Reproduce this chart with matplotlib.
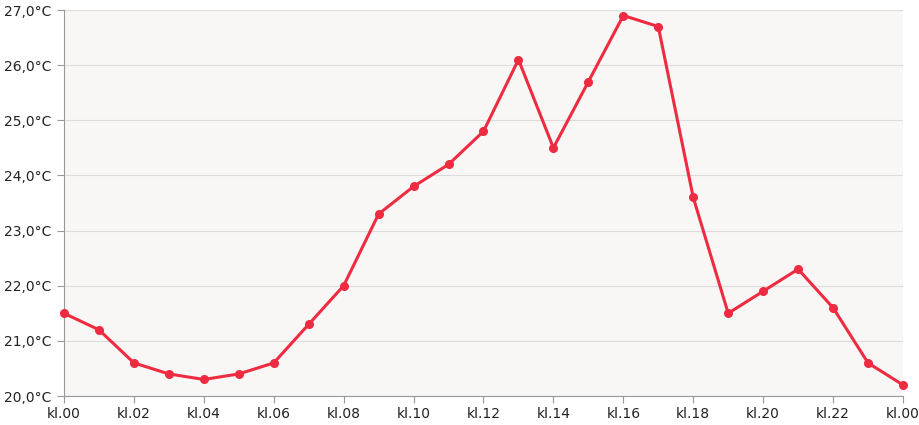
import matplotlib
matplotlib.use("Agg")
import matplotlib.pyplot as plt
from matplotlib.ticker import FuncFormatter

# hourly temperature readings
hours = list(range(25))
temps = [21.5, 21.2, 20.6, 20.4, 20.3, 20.4, 20.6, 21.3, 22.0, 23.3, 23.8, 24.2, 24.8,
         26.1, 24.5, 25.7, 26.9, 26.7, 23.6, 21.5, 21.9, 22.3, 21.6, 20.6, 20.2]
tick_hours = list(range(0, 25, 2))
tick_labels = ['kl.%02d' % (h % 24) for h in tick_hours]
y_ticks = [20, 21, 22, 23, 24, 25, 26, 27]

plt.rcParams['font.family'] = 'DejaVu Sans'
plt.rcParams['font.sans-serif'] = ['DejaVu Sans']

fig = plt.figure(figsize=(9.2, 4.25), dpi=100)
ax = fig.add_axes([64/920, 1-396/425, (903-64)/920, (396-10)/425])
ax.set_facecolor('#f8f7f6')

ax.plot(hours, temps, color='#ee2b40', linewidth=2.2, marker='o', markersize=5.5, zorder=3,
        clip_on=False)

ax.set_xlim(0, 24)
ax.set_ylim(20, 27)
ax.set_xticks(tick_hours)
ax.set_xticklabels(tick_labels)
ax.set_yticks(y_ticks)
ax.yaxis.set_major_formatter(FuncFormatter(lambda v, p: ('%.1f°C' % v).replace('.', ',')))

ax.grid(axis='y', color='#dcdcdc', linewidth=0.8)
ax.set_axisbelow(True)
for s in ['top', 'right']:
    ax.spines[s].set_visible(False)
for s in ['left', 'bottom']:
    ax.spines[s].set_color('#999999')
ax.tick_params(axis='both', colors='#999999', labelcolor='#222222', labelsize=10, length=5)
ax.tick_params(axis='y', pad=4)
ax.tick_params(axis='x', pad=3)

plt.savefig('out.png', dpi=100)
plt.close()
